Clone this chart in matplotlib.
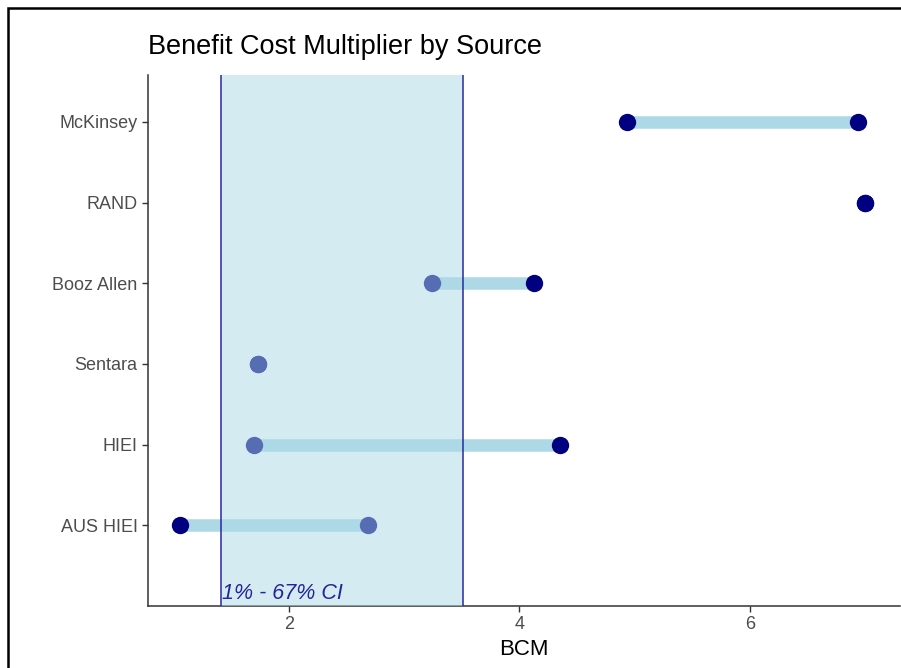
import matplotlib.pyplot as plt
from matplotlib.patches import Rectangle

# Data
sources = ["AUS HIEI", "HIEI", "Sentara", "Booz Allen", "RAND", "McKinsey"]
bcm_low = [1.06, 1.70, 1.73, 3.24, 7.00, 4.93]
bcm_high = [2.69, 4.35, 1.73, 4.13, 7.00, 6.94]
ci_low, ci_high = 1.41, 3.51
ci_label = "1% - 67% CI"

plt.rcParams['font.family'] = ['Liberation Sans', 'DejaVu Sans']

fig = plt.figure(figsize=(9.01, 6.68), dpi=100)
ax = fig.add_axes([148 / 901, 1 - 606 / 668, 752 / 901, 531 / 668])

ypos = list(range(1, len(sources) + 1))

# dumbbell segments + points
ax.hlines(ypos, bcm_low, bcm_high, color='lightblue', lw=9, zorder=1)
ax.plot(bcm_low, ypos, 'o', color='navy', ms=12.5, mec='none', zorder=2)
ax.plot(bcm_high, ypos, 'o', color='navy', ms=12.5, mec='none', zorder=2)

# CI band drawn on top (semi transparent)
ax.add_patch(Rectangle((ci_low, 0), ci_high - ci_low, 6.6,
                       facecolor='lightblue', alpha=0.5, edgecolor='none', zorder=3))
ax.axvline(ci_low, color='#2a2a9e', lw=1.1, zorder=4)
ax.axvline(ci_high, color='#2a2a9e', lw=1.1, zorder=4)
ax.text(ci_low + 0.01, 0.03, ci_label, style='italic', color='#25259a',
        fontsize=15.5, ha='left', va='bottom', zorder=5)

ax.set_xlim(0.78, 7.30)
ax.set_ylim(0, 6.58)
ax.set_xticks([2, 4, 6])
ax.set_yticks(ypos)
ax.set_yticklabels(sources)
ax.tick_params(colors='#333333', labelcolor='#4d4d4d', labelsize=13, length=4, width=1)
ax.set_xlabel("BCM", fontsize=16, labelpad=4)
for side in ['top', 'right']:
    ax.spines[side].set_visible(False)
for side in ['left', 'bottom']:
    ax.spines[side].set_color('#333333')
    ax.spines[side].set_linewidth(1.1)

fig.text(148 / 901, 1 - 47 / 668, "Benefit Cost Multiplier by Source",
         fontsize=19.5, ha='left', va='center')

# outer frame of the screenshot
fig.add_artist(Rectangle((7.5 / 901, -0.1), 1.2, 1 - 7.5 / 668 + 0.1,
                         transform=fig.transFigure, fill=False,
                         edgecolor='black', lw=1.8))

fig.savefig("out.png", dpi=100)
